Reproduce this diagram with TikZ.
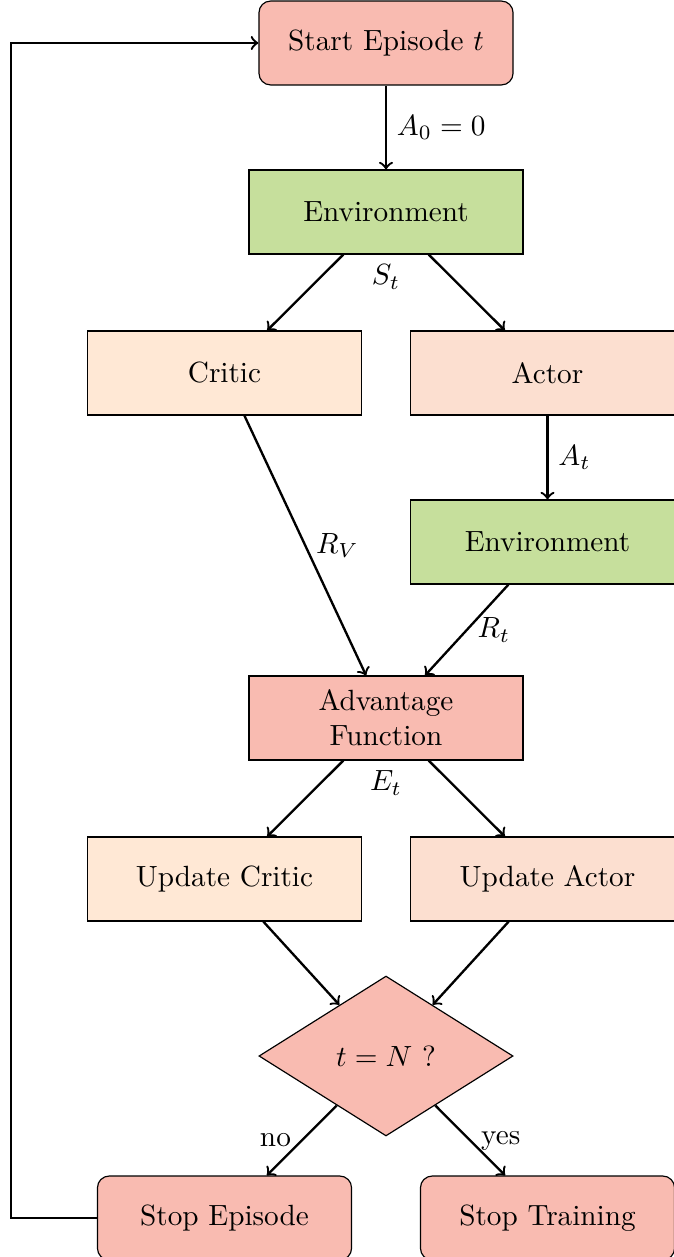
\documentclass[tikz,border=0pt]{standalone}
\usetikzlibrary{shapes.geometric,arrows}
\definecolor{cRed}{HTML}{F9BBB1}
\definecolor{cGreen}{HTML}{C6DF9C}
\definecolor{cCritic}{HTML}{FFE8D5}
\definecolor{cActor}{HTML}{FCDFD0}
\tikzset{
  box/.style={draw, rectangle, minimum width=93.7pt, minimum height=28.7pt, align=center, inner sep=2pt},
  rbox/.style={draw, rectangle, rounded corners=4pt, minimum width=86.9pt, minimum height=28.7pt, fill=cRed},
  decision/.style={draw, diamond, minimum width=86.9pt, minimum height=54.7pt, inner sep=0pt, fill=cRed},
  conn/.style={->, thick},
  lbl/.style={inner sep=3.33pt}
}
\begin{document}
\begin{tikzpicture}[x=0.342pt, y=-0.342pt]
\useasboundingbox (0,0) rectangle (674,1257);
\node[rbox] (start) at (386,43) {Start Episode $t$};
\node[box, fill=cGreen] (env1) at (386,212) {Environment};
\node[box, fill=cCritic] (critic) at (224.5,373) {Critic};
\node[box, fill=cActor] (actor) at (547.5,373) {Actor};
\node[box, fill=cGreen] (env2) at (547.5,542) {Environment};
\node[box, fill=cRed] (adv) at (386,718) {Advantage\\Function};
\node[box, fill=cCritic] (ucritic) at (224.5,879) {Update Critic};
\node[box, fill=cActor] (uactor) at (547.5,879) {Update Actor};
\node[decision] (dec) at (386,1056) {$t = N$ ?};
\node[rbox] (stopep) at (224.5,1218) {Stop Episode};
\node[rbox] (stoptr) at (547.5,1218) {Stop Training};
\node[lbl, below] (st) at (env1.south) {$S_t$};
\node[lbl, below] (et) at (adv.south) {$E_t$};

\draw[conn] (start) -- node[midway, right] {$A_0 = 0$} (env1);
\draw[conn] (env1) -- (critic);
\draw[conn] (env1) -- (actor);
\draw[conn] (actor) -- node[midway, right] {$A_t$} (env2);
\draw[conn] (critic) -- node[midway, right] {$R_V$} (adv);
\draw[conn] (env2) -- node[midway, right] {$R_t$} (adv);
\draw[conn] (adv) -- (ucritic);
\draw[conn] (adv) -- (uactor);
\draw[conn] (ucritic) -- (dec);
\draw[conn] (uactor) -- (dec);
\draw[conn] (dec) -- node[midway, left] {no} (stopep);
\draw[conn] (dec) -- node[midway, right] {yes} (stoptr);
\draw[conn] (stopep.west) -- ++(-86,0) |- (start.west);
\end{tikzpicture}
\end{document}
